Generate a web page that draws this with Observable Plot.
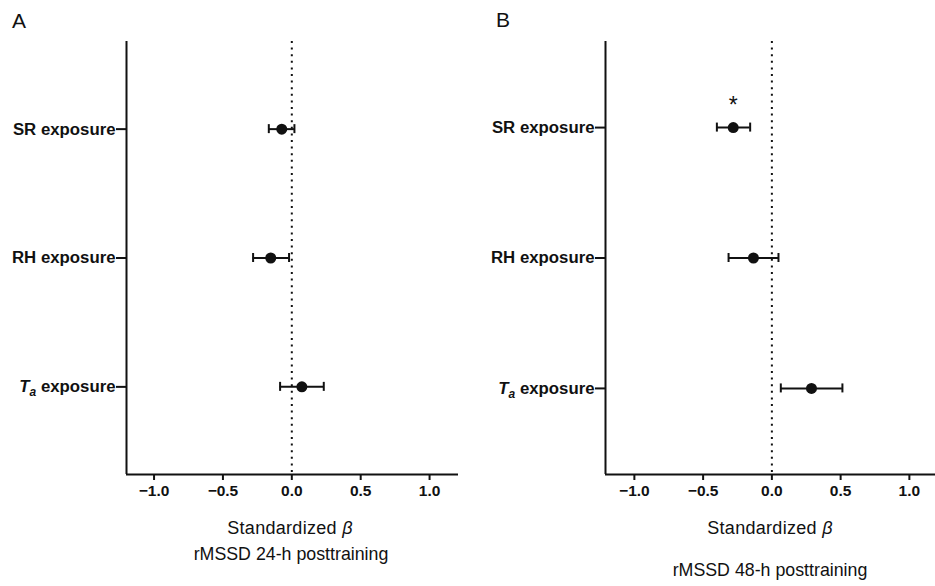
<!DOCTYPE html>
<html>
<head>
<meta charset="utf-8">
<script src="https://cdn.jsdelivr.net/npm/d3@7"></script>
<script src="https://cdn.jsdelivr.net/npm/@observablehq/plot@0.6"></script>
<style>
  html, body { margin: 0; padding: 0; background: #fff; overflow: hidden; }
  #root { position: relative; width: 935px; height: 586px; font-family: "Liberation Sans", Arial, sans-serif; color: #111; }
  .panel { position: absolute; top: 0; }
  .lbl { position: absolute; white-space: nowrap; line-height: 1; }
  .center { transform: translateX(-50%); }
</style>
</head>
<body>
<div id="root"></div>
<script>
// ---- data ----
const rows = ["SR exposure", "RH exposure", "Ta exposure"];
const xTicks = [-1.0, -0.5, 0.0, 0.5, 1.0];

// Panel A: rMSSD 24-h posttraining
const betaA = [-0.073, -0.153, 0.073];
const lowA  = [-0.167, -0.281, -0.085];
const highA = [0.019, -0.020, 0.232];
const sigA  = ["", "", ""];

// Panel B: rMSSD 48-h posttraining
const betaB = [-0.281, -0.134, 0.288];
const lowB  = [-0.400, -0.315, 0.065];
const highB = [-0.158, 0.048, 0.513];
const sigB  = ["*", "", ""];

const panelLetters = ["A", "B"];
const xLabel = "Standardized";
const captions = ["rMSSD 24-h posttraining", "rMSSD 48-h posttraining"];

// ---- drawing ----
const root = document.getElementById("root");
const rowPos = rows.map((_, i) => rows.length - i); // 3,2,1 top to bottom

function panel({beta, low, high, sig, left, width, marginLeft, marginRight, xDomain, pad}) {
  const data = rows.map((r, i) => ({label: r, pos: rowPos[i], beta: beta[i], low: low[i], high: high[i], sig: sig[i]}));
  const yDomain = [1 - pad, rows.length + pad];
  const svg = Plot.plot({
    width, height: 586,
    marginLeft, marginRight, marginTop: 41, marginBottom: 112,
    style: {fontFamily: '"Liberation Sans", Arial, sans-serif', fontSize: "15px", color: "#111", background: "transparent", overflow: "visible"},
    x: {domain: xDomain},
    y: {domain: yDomain},
    marks: [
      Plot.ruleX([0], {stroke: "#111", strokeWidth: 2, strokeDasharray: "2,4.6"}),
      Plot.ruleX([xDomain[0]], {stroke: "#111", strokeWidth: 2}),
      Plot.ruleY([yDomain[0]], {stroke: "#111", strokeWidth: 2}),
      Plot.ruleY(data, {y: "pos", x1: "low", x2: "high", stroke: "#111", strokeWidth: 2}),
      Plot.ruleX(data, {x: "low", y1: "pos", y2: "pos", insetTop: -4.5, insetBottom: -4.5, stroke: "#111", strokeWidth: 2}),
      Plot.ruleX(data, {x: "high", y1: "pos", y2: "pos", insetTop: -4.5, insetBottom: -4.5, stroke: "#111", strokeWidth: 2}),
      Plot.dot(data, {x: "beta", y: "pos", r: 5.5, fill: "#111", stroke: "none"}),
      Plot.text(data, {x: "beta", y: "pos", text: "sig", dy: -22, fontSize: 23, fill: "#111"}),
      Plot.axisX({ticks: xTicks, tickSize: 6, tickPadding: 4, tickFormat: d3.format(".1f"), fontWeight: "bold", fontSize: 15.5, label: null, strokeWidth: 2, stroke: "#111", fill: "#111"}),
      Plot.axisY({ticks: rowPos, tickFormat: p => rows[rows.length - p], tickSize: 10, tickPadding: 1, fontWeight: "bold", fontSize: 16.8, label: null, strokeWidth: 2, stroke: "#111", fill: "#111"})
    ]
  });
  // format "Ta exposure" with italic T and subscript a
  d3.select(svg).selectAll("text").each(function() {
    const t = d3.select(this);
    if (t.text() === "Ta exposure") {
      t.text(null);
      t.append("tspan").attr("font-style", "italic").text("T");
      t.append("tspan").attr("font-style", "italic").attr("font-size", "12px").attr("dy", "4").text("a");
      t.append("tspan").attr("dy", "-4").text(" exposure");
    }
  });
  const div = document.createElement("div");
  div.className = "panel";
  div.style.left = left + "px";
  div.appendChild(svg);
  root.appendChild(div);
}

panel({beta: betaA, low: lowA, high: highA, sig: sigA, left: 0, width: 467, marginLeft: 126, marginRight: 9, xDomain: [-1.2, 1.21], pad: 0.68});
panel({beta: betaB, low: lowB, high: highB, sig: sigB, left: 467, width: 468, marginLeft: 138, marginRight: 0, xDomain: [-1.21, 1.19], pad: 0.66});

function addLabel(html, x, y, size, extra, spacing) {
  const d = document.createElement("div");
  d.className = "lbl" + (extra || "");
  d.style.left = x + "px";
  d.style.top = y + "px";
  d.style.fontSize = size + "px";
  if (spacing) d.style.letterSpacing = spacing + "px";
  d.innerHTML = html;
  root.appendChild(d);
}
addLabel(panelLetters[0], 12, 10, 21);
addLabel(panelLetters[1], 496, 9, 21);
addLabel(xLabel + " <i>β</i>", 290, 519, 18, " center", 0.3);
addLabel(xLabel + " <i>β</i>", 770, 519, 18, " center", 0.3);
addLabel(captions[0], 291, 546, 17.8, " center");
addLabel(captions[1], 770, 562, 17.8, " center");
</script>
</body>
</html>
